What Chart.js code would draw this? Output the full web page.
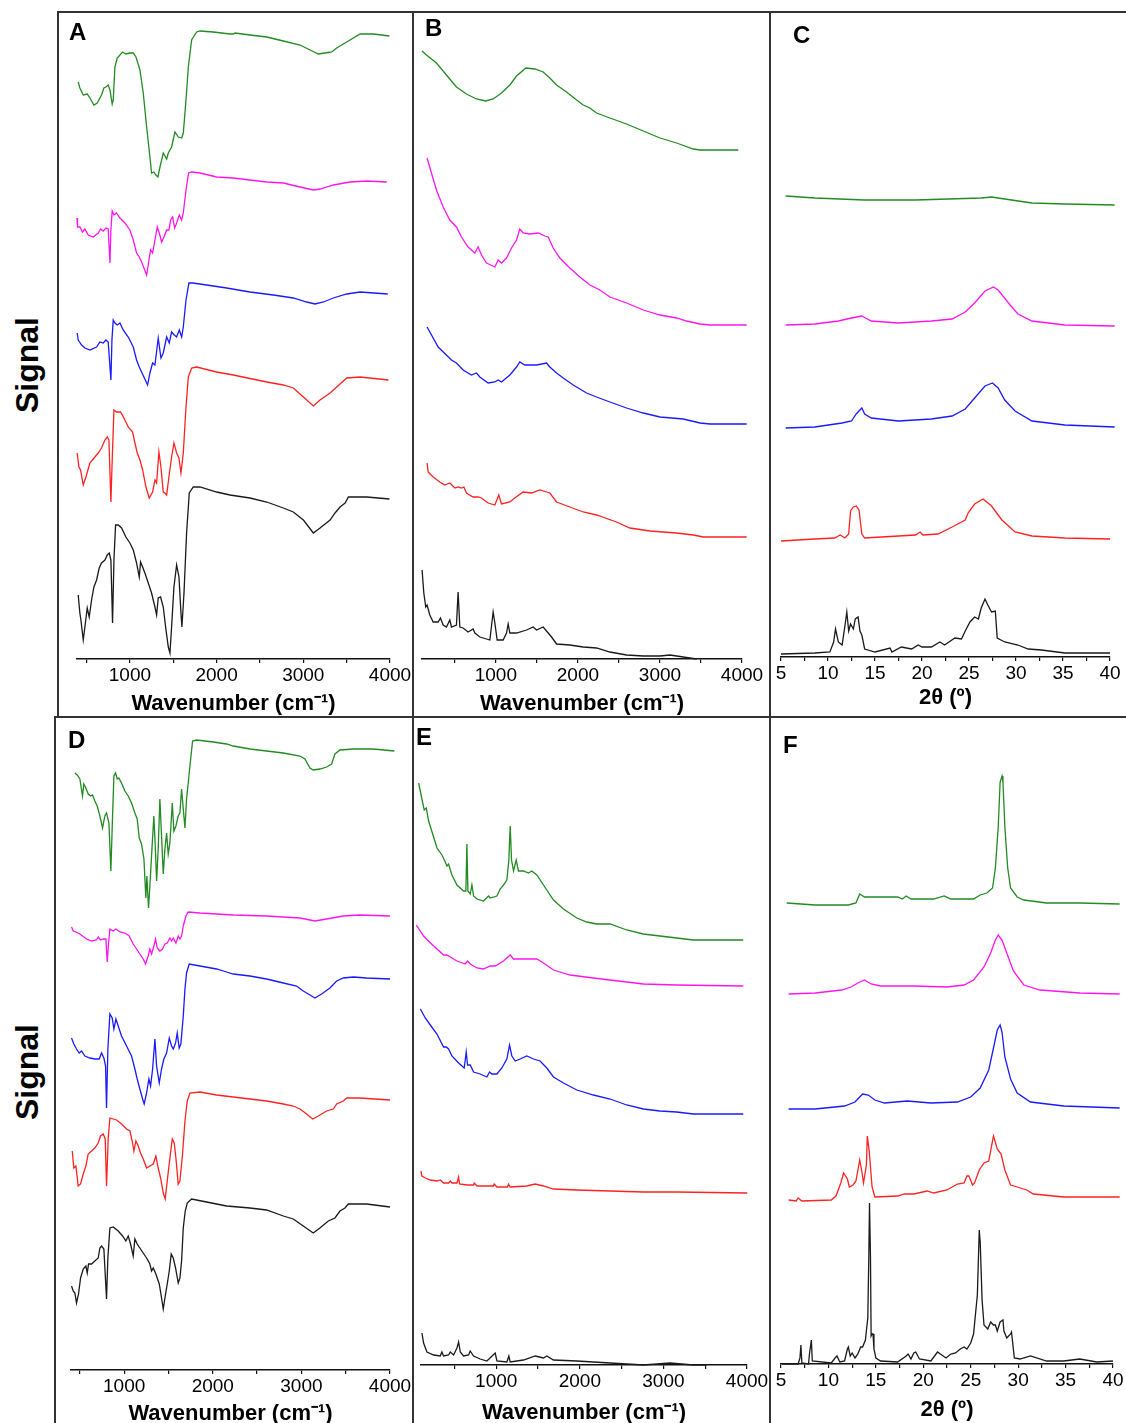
<!DOCTYPE html>
<html><head><meta charset="utf-8">
<script src="https://cdn.jsdelivr.net/npm/chart.js@4.4.1/dist/chart.umd.min.js"></script>
<style>
html,body{margin:0;padding:0;background:#fff;}
body{width:1126px;height:1423px;position:relative;overflow:hidden;font-family:"Liberation Sans",Arial,sans-serif;}
canvas{position:absolute;}
.ln{position:absolute;background:#333;}
.letter{position:absolute;font-weight:bold;font-size:24px;line-height:1;color:#000;}
.signal{position:absolute;width:140px;height:40px;line-height:40px;text-align:center;font-weight:bold;font-size:32px;color:#000;transform:rotate(-90deg);}
</style></head><body>
<script>
// ---------- tick positions and labels ----------
const waveTicks = [500, 1000, 1500, 2000, 2500, 3000, 3500, 4000];
const waveLabels = [1000, 2000, 3000, 4000];
const thetaTicks = [5, 7.5, 10, 12.5, 15, 17.5, 20, 22.5, 25, 27.5, 30, 32.5, 35, 37.5, 40];
const thetaLabels = [5, 10, 15, 20, 25, 30, 35, 40];

// ---------- Panel A (FTIR, wavenumber) ----------
const aGreenX = [404,423,462,508,539,585,623,673,700,723,750,770,796,808,827,854,916,954,1000,1039,1070,1116,1154,1193,1231,1250,1277,1300,1323,1347,1385,1424,1443,1481,1520,1558,1597,1616,1647,1674,1712,1770,1808,1962,2154,2193,2212,2385,2578,2770,2962,3078,3174,3251,3328,3385,3501,3655,3808,3993];
const aGreenY = [577,571,564,565,561,554,556,564,571,572,574,569,555,559,592,601,607,605,606,606,602,589,566,532,502,486,487,484,482,492,506,500,506,512,527,522,521,526,559,592,619,627,628,627,625,625,626,624,622,618,614,609,605,606,607,611,617,625,625,623];
const aMagX = [390,396,423,454,481,519,577,635,662,693,723,750,770,781,796,816,846,885,943,1000,1039,1077,1108,1135,1162,1193,1220,1239,1262,1289,1316,1339,1366,1393,1424,1450,1470,1493,1516,1539,1570,1597,1616,1647,1677,1712,1808,2001,2193,2385,2578,2770,2962,3116,3193,3347,3539,3732,3963];
const aMagY = [441,432,432,427,430,424,422,426,430,428,431,430,396,429,448,444,446,441,436,429,419,406,402,397,391,384,399,409,406,419,432,426,417,422,429,429,439,442,431,436,444,439,446,469,486,487,486,482,481,479,477,476,472,469,470,474,477,478,477];
const aBlueX = [392,404,443,481,539,616,654,693,723,750,781,793,808,827,854,885,923,981,1039,1077,1108,1135,1162,1204,1231,1262,1289,1327,1358,1385,1424,1454,1481,1512,1539,1570,1597,1616,1647,1681,1724,1885,2116,2385,2655,2885,3039,3135,3232,3347,3501,3655,3974];
const aBlueY = [326,319,314,311,309,312,317,316,319,317,279,319,339,336,334,336,329,322,312,299,292,287,282,274,286,296,294,321,301,306,322,316,327,324,322,329,322,332,359,376,376,374,371,367,364,361,357,355,357,361,365,367,365];
const aRedX = [392,412,431,462,493,539,596,635,673,712,739,758,781,796,816,846,893,931,981,1031,1058,1085,1116,1147,1185,1223,1262,1289,1308,1335,1358,1385,1404,1424,1450,1481,1508,1539,1566,1589,1616,1647,1674,1712,1770,2001,2193,2578,2770,2885,3001,3116,3193,3309,3385,3462,3501,3655,3982];
const aRedY = [206,192,189,174,182,196,202,206,211,219,222,219,157,199,249,247,247,241,232,227,216,206,199,189,172,161,167,179,176,207,192,167,166,164,182,202,216,206,201,186,206,252,282,291,292,287,284,277,274,271,262,253,259,266,272,278,281,282,279];
const aBlackX = [404,423,435,462,481,508,531,558,585,616,646,673,712,739,762,781,800,816,835,866,904,954,1000,1039,1077,1108,1123,1147,1173,1212,1250,1289,1308,1327,1354,1385,1412,1443,1462,1481,1508,1539,1566,1589,1600,1624,1654,1685,1731,1808,2001,2154,2385,2578,2770,2885,3001,3116,3193,3309,3366,3424,3482,3520,3732,3993];
const aBlackY = [64,46,39,19,32,51,42,59,72,79,91,96,99,104,106,99,36,99,134,134,131,122,116,109,96,82,97,92,86,76,66,52,44,61,62,52,32,12,6,32,72,94,82,46,32,66,126,166,172,172,167,164,161,157,151,147,139,126,131,139,146,152,156,162,162,160];

// ---------- Panel B (Raman, wavenumber) ----------
const bGreenX = [100,154,276,398,520,642,764,878,967,1069,1171,1252,1366,1475,1577,1658,1740,1862,1984,2065,2146,2227,2390,2593,2797,3000,3203,3406,3488,3955];
const bGreenY = [608,604,596,584,572,565,560,558,560,566,574,583,591,590,587,581,574,567,559,554,551,546,541,535,528,521,516,510,509,509];
const bMagX = [162,215,276,358,439,520,581,662,744,784,825,886,988,1028,1069,1130,1191,1252,1292,1333,1414,1516,1597,1638,1699,1780,1902,2024,2146,2268,2390,2593,2797,3000,3203,3325,3488,3610,4057];
const bMagY = [501,486,469,452,439,432,422,412,406,412,404,396,392,399,396,401,411,419,430,426,425,426,423,422,411,401,391,382,374,369,362,356,349,344,341,338,335,334,334];
const bBlueX = [162,297,459,520,601,703,764,805,906,988,1028,1069,1171,1252,1292,1353,1496,1618,1658,1740,1821,1943,2105,2227,2390,2593,2797,3000,3284,3488,3610,4057];
const bBlueY = [332,312,299,296,289,284,286,282,276,277,279,277,284,292,297,294,294,296,292,286,281,274,266,262,257,251,246,242,240,236,235,235];
const bRedX = [162,175,236,317,378,439,500,540,581,610,642,723,784,825,906,988,1036,1069,1171,1231,1333,1435,1536,1618,1658,1740,1902,2065,2227,2471,2634,2878,3203,3406,3528,4057];
const bRedY = [196,187,182,177,174,176,171,172,171,172,166,162,162,161,156,154,164,155,157,161,167,166,169,167,166,157,152,147,144,137,131,128,126,124,122,122];
const bBlackX = [101,122,146,162,195,236,297,325,358,398,439,459,520,540,561,601,662,723,744,805,927,967,988,1016,1089,1130,1150,1171,1252,1374,1455,1496,1577,1638,1679,1740,1902,2065,2227,2390,2593,2797,3000,3122,3284,3447];
const bBlackY = [89,66,52,54,44,37,37,41,34,32,39,32,34,67,32,31,27,30,26,22,19,47,36,19,19,26,35,26,26,29,32,29,32,26,22,15,14,12,11,7,4,3,3,4,2,0];

// ---------- Panel C (XRD, 2theta) ----------
const cGreenX = [5.5,8.6,13.9,19.3,22.8,26.3,27.4,28.8,31.7,35.2,40.5];
const cGreenY = [461,459,457,457,458,459,460,458,454,453,452];
const cMagX = [5.5,8.6,11.1,12.5,13.6,13.8,14.6,17.5,21.0,23.2,24.6,25.6,26.7,27.6,28.1,29.2,30.2,31.7,35.2,40.5];
const cMagY = [332,333,336,339,341,340,336,334,336,338,345,354,366,370,367,354,343,336,332,331];
const cBlueX = [5.5,8.6,11.5,12.5,13.0,13.6,13.9,14.6,17.5,21.0,23.2,24.6,25.6,26.7,27.5,28.1,28.8,29.9,31.7,35.2,40.5];
const cBlueY = [229,230,234,236,243,249,243,239,236,238,241,248,259,271,274,269,257,246,236,232,230];
const cRedX = [5.0,8.6,10.7,11.3,11.8,12.2,12.4,12.7,13.0,13.3,13.6,13.9,17.5,19.3,19.8,20.1,21.7,23.2,24.6,24.9,25.6,26.5,27.4,28.5,29.9,31.7,35.2,40.0];
const cRedY = [116,118,119,122,119,123,146,150,151,147,123,119,121,122,125,122,123,130,137,144,153,158,151,137,125,121,119,118];
const cBlackX = [5.0,8.6,10.2,10.6,10.8,11.1,11.5,11.8,12.0,12.2,12.4,12.7,12.9,13.2,13.4,13.6,13.9,15.0,16.6,16.8,17.8,18.9,19.6,20.0,21.0,21.9,22.4,23.5,24.2,24.6,25.1,25.6,26.0,26.3,26.7,27.0,27.4,27.8,28.0,28.8,30.2,31.3,32.7,35.2,40.0];
const cBlackY = [3,4,5,15,28,15,12,31,45,26,33,28,38,40,26,22,8,5,9,5,10,8,12,10,10,15,12,19,18,26,35,40,38,49,58,52,45,46,19,15,12,8,7,4,4];

// ---------- Panel D (FTIR, wavenumber) ----------
const dGreenX = [444,470,500,530,545,568,594,621,643,669,696,726,756,782,801,828,850,869,884,903,922,940,970,1008,1046,1083,1121,1147,1170,1196,1223,1245,1256,1275,1290,1309,1335,1351,1366,1384,1403,1422,1441,1460,1479,1497,1516,1543,1561,1584,1610,1629,1648,1667,1686,1704,1723,1742,1772,1817,2005,2156,2231,2419,2607,2796,2984,3040,3097,3134,3209,3285,3341,3379,3435,3586,3811,4049];
const dGreenY = [597,595,591,574,586,582,576,574,575,569,564,554,542,554,557,547,499,554,594,597,591,592,587,579,574,567,557,551,532,526,511,472,494,462,484,514,554,524,489,521,571,534,496,521,537,516,527,567,539,544,554,557,581,561,542,571,587,604,629,630,628,626,624,621,619,617,614,611,602,600,601,603,606,616,620,621,621,619];
const dMagX = [406,425,455,500,530,575,632,688,707,733,764,794,809,824,839,876,906,952,1008,1057,1102,1140,1177,1215,1241,1271,1290,1309,1335,1354,1373,1403,1433,1460,1486,1516,1535,1554,1584,1610,1629,1648,1667,1697,1723,1855,2043,2231,2607,2984,3153,3285,3473,3661,4000];
const dMagY = [443,439,438,436,434,431,429,430,433,430,431,431,408,427,441,439,441,438,437,434,426,421,416,411,406,414,421,416,424,431,422,419,421,426,427,432,429,432,427,434,431,434,444,454,458,457,456,455,454,452,449,451,454,455,454];
const dBlueX = [406,432,462,493,519,557,613,669,718,745,771,790,801,816,839,865,884,907,933,970,1027,1083,1121,1147,1177,1208,1226,1253,1279,1298,1321,1347,1366,1396,1422,1448,1479,1509,1535,1554,1580,1599,1621,1640,1667,1686,1704,1734,1855,2043,2156,2231,2419,2607,2796,2946,3021,3097,3153,3228,3322,3398,3473,3586,3736,4000];
const dBlueY = [332,326,321,317,319,314,312,311,311,317,312,304,262,321,356,352,341,351,344,334,324,314,301,291,281,271,266,277,291,284,301,331,304,287,301,311,317,332,324,321,327,337,322,326,354,381,397,406,404,401,398,396,394,391,387,384,379,375,372,376,382,389,392,393,392,391];
const dRedX = [414,432,455,481,508,538,568,594,632,669,707,733,764,786,801,820,839,876,914,970,1027,1065,1095,1110,1132,1159,1185,1215,1253,1290,1328,1358,1384,1411,1441,1463,1486,1516,1543,1565,1584,1610,1629,1659,1686,1712,1742,1855,2043,2231,2607,2796,2908,2984,3059,3127,3191,3285,3360,3398,3473,3511,3661,4000];
const dRedY = [219,202,204,184,186,196,204,216,219,222,227,234,236,231,184,232,252,251,250,246,241,239,227,219,229,224,217,211,202,204,206,214,202,192,177,171,189,212,231,227,212,186,189,216,249,269,277,278,275,273,269,266,264,261,256,251,254,259,261,266,269,272,272,270];
const dBlackX = [406,425,444,462,485,508,538,568,583,598,632,669,707,726,745,771,801,816,839,876,933,982,1019,1046,1072,1102,1121,1147,1177,1215,1253,1290,1309,1328,1358,1396,1422,1441,1460,1486,1509,1531,1554,1580,1610,1629,1648,1667,1689,1712,1761,1930,2156,2419,2607,2796,2908,3021,3134,3209,3304,3379,3435,3492,3529,3736,4000];
const dBlackY = [84,79,77,67,76,92,101,104,97,106,106,109,112,122,124,121,71,112,142,143,139,134,129,134,126,114,131,126,122,117,112,106,99,102,96,86,72,61,72,86,99,116,112,102,87,92,109,142,159,167,171,168,164,162,160,154,151,144,137,142,149,152,159,162,166,166,163];

// ---------- Panel E (Raman, wavenumber) ----------
const eGreenX = [44,72,111,139,163,191,251,291,350,390,410,430,470,530,609,637,649,661,689,709,729,769,848,908,928,1008,1047,1087,1127,1151,1167,1183,1207,1239,1266,1326,1386,1426,1486,1565,1685,1804,1964,2083,2202,2362,2561,2760,2959,3158,3358,3955];
const eGreenY = [593,582,566,555,557,544,528,517,510,503,499,501,490,480,474,474,521,474,471,480,469,466,464,469,467,469,476,480,485,505,539,505,494,505,494,494,492,494,490,480,465,456,447,443,441,441,435,431,429,427,425,425];
const eMagX = [44,131,251,370,410,530,629,657,689,769,848,928,988,1087,1167,1207,1326,1486,1565,1685,1884,2163,2362,2760,3158,3955];
const eMagY = [440,429,419,410,410,404,401,404,401,397,396,399,399,404,410,406,406,406,402,395,390,387,385,381,380,379];
const eBlueX = [44,92,151,211,291,370,402,430,470,550,617,641,657,689,729,808,888,920,948,1008,1067,1127,1159,1187,1227,1286,1366,1446,1525,1605,1685,1804,1964,2163,2362,2561,2760,2959,3158,3358,3955];
const eBlueY = [371,356,347,340,331,318,318,316,309,302,297,313,300,300,293,291,288,293,291,291,297,306,320,309,304,306,309,306,304,297,288,282,275,270,266,260,256,254,253,251,251];
const eRedX = [99,111,151,211,291,330,370,430,450,470,530,550,561,649,729,737,769,968,976,1008,1135,1147,1167,1366,1466,1565,1685,1964,2362,2760,3158,4003];
const eRedY = [194,189,187,185,184,185,182,182,184,182,182,188,181,180,180,182,179,179,181,178,178,181,178,179,181,179,176,175,174,173,173,172];
const eBlackX = [111,131,171,251,330,350,370,430,450,490,530,550,570,609,669,689,729,808,888,988,1008,1127,1151,1167,1326,1466,1565,1605,1685,1964,2362,2760,3079,3358,3517];
const eBlackY = [32,22,13,10,9,13,9,10,13,10,17,23,13,9,10,14,9,6,4,12,4,3,9,3,5,9,7,9,5,4,2,0,2,0,0];

// ---------- Panel F (XRD, 2theta) ----------
const fGreenX = [5.6,8.6,12.1,12.9,13.3,13.8,17.3,17.8,18.2,18.7,21.1,22.2,22.9,25.3,26.0,26.7,27.3,27.6,27.9,28.1,28.3,28.4,28.6,28.9,29.2,29.9,30.6,33.0,36.5,40.7];
const fGreenY = [461,459,459,461,470,467,467,465,468,465,465,468,465,465,469,471,476,496,537,582,588,582,537,496,476,467,464,461,461,460];
const fMagX = [5.8,8.6,11.4,12.4,13.1,13.8,14.5,15.5,19.0,22.5,24.3,25.3,26.4,27.1,27.6,27.9,28.3,28.8,29.5,30.6,32.3,36.5,40.7];
const fMagY = [370,371,374,377,381,384,380,378,378,377,379,384,397,411,424,429,424,411,393,379,374,371,370];
const fBlueX = [5.8,8.6,11.7,12.8,13.3,13.6,14.2,14.9,15.9,18.3,20.8,23.6,25.0,26.0,26.9,27.4,27.8,28.1,28.3,28.6,29.2,29.9,31.3,34.8,40.7];
const fBlueY = [255,255,258,262,267,270,269,264,261,263,261,262,267,276,294,316,334,339,332,307,285,271,262,258,256];
const fRedX = [5.8,6.6,6.8,7.2,10.3,10.8,11.3,11.6,12.0,12.2,12.6,12.9,13.3,13.5,13.7,14.0,14.1,14.3,14.6,14.9,17.3,18.0,19.0,20.4,21.1,22.5,23.6,24.3,24.6,24.8,25.2,25.4,25.9,26.4,26.9,27.4,27.8,28.2,28.6,29.2,29.9,30.9,31.6,34.8,40.7];
const fRedY = [164,163,166,163,164,168,181,191,185,177,179,183,204,194,181,199,228,213,177,167,168,170,170,173,171,174,180,181,188,188,179,181,194,201,203,228,215,210,194,179,177,174,170,167,167];
const fBlackX = [5.1,6.8,7.0,7.1,7.2,7.9,8.0,8.2,8.3,10.3,10.7,10.9,11.2,11.7,12.0,12.1,12.3,12.5,12.8,13.1,13.4,13.6,13.9,14.0,14.15,14.26,14.33,14.43,14.5,14.6,14.7,14.8,15.0,15.5,17.3,18.2,18.4,18.7,19.0,19.2,19.6,20.8,21.5,21.8,22.4,22.9,23.4,23.9,24.3,24.6,25.0,25.3,25.7,25.9,26.0,26.2,26.4,26.8,27.1,27.4,27.6,27.8,28.1,28.4,28.5,28.8,29.2,29.3,29.6,30.2,31.3,33.0,34.8,36.5,38.3,40.0];
const fBlackY = [0,0,6,19,1,0,10,24,3,1,6,8,2,3,15,17,8,11,6,10,17,17,24,33,46,109,161,109,28,30,30,15,6,3,2,8,10,5,11,12,5,3,12,10,6,10,11,15,17,15,21,30,69,134,122,64,39,35,42,39,39,33,42,44,33,26,30,32,6,5,8,3,3,5,2,3];

// ---------- styling / layout ----------
const COLORS = {green:'#228b22', magenta:'#ff14f0', blue:'#1a1aff', red:'#ff2222', black:'#1a1a1a'};
const FONT = '"Liberation Sans", Arial, sans-serif';
Chart.defaults.font.family = FONT;

function pts(xs, ys){ return xs.map((v,i)=>({x:v, y:ys[i]})); }

function addLine(cls, l, t, w, h){
  const d = document.createElement('div'); d.className = cls;
  d.style.left=l+'px'; d.style.top=t+'px'; d.style.width=w+'px'; d.style.height=h+'px';
  document.body.appendChild(d);
}
function addText(cls, txt, l, t){
  const d = document.createElement('div'); d.className = cls; d.textContent = txt;
  d.style.left=l+'px'; d.style.top=t+'px'; document.body.appendChild(d);
}

function makePanel(p){
  const c = document.createElement('canvas');
  c.width = p.w; c.height = p.h;
  c.style.left = p.left+'px'; c.style.top = p.top+'px';
  c.style.width = p.w+'px'; c.style.height = p.h+'px';
  document.body.appendChild(c);
  const series = [
    [p.s[0], p.s[1], COLORS.green],
    [p.s[2], p.s[3], COLORS.magenta],
    [p.s[4], p.s[5], COLORS.blue],
    [p.s[6], p.s[7], COLORS.red],
    [p.s[8], p.s[9], COLORS.black]
  ];
  new Chart(c, {
    type:'line',
    data:{datasets: series.map(s=>({data:pts(s[0],s[1]), borderColor:s[2], borderWidth:1.3, pointRadius:0, fill:false, tension:0, clip:false}))},
    options:{
      responsive:false, animation:false, devicePixelRatio:1,
      layout:{padding:{left:p.pl, right:p.pr, top:2, bottom:0}},
      plugins:{legend:{display:false}, tooltip:{enabled:false}},
      scales:{
        x:{type:'linear', min:p.xmin, max:p.xmax,
          afterBuildTicks:(s)=>{ s.ticks = p.ticks.map(v=>({value:v})); },
          afterFit:(s)=>{ s.height = p.axisH; },
          border:{display:true, color:'#111', width:1.5},
          grid:{display:true, drawOnChartArea:false, drawTicks:true, tickLength:4, color:'#111', lineWidth:1.2},
          ticks:{autoSkip:false, maxRotation:0, minRotation:0, padding:1, color:'#000',
                 font:{size:19, family:FONT},
                 callback:(v)=> p.labels.includes(v) ? String(v) : ''},
          title:{display:true, text:p.title, color:'#000', font:{size:22, weight:'bold', family:FONT}, padding:{top:0, bottom:p.tpb}}
        },
        y:{display:false, min:0, max:p.ymax}
      }
    }
  });
}

const WAVE = 'Wavenumber (cm\u207B\u00B9)';
const THETA = '2\u03B8 (\u00BA)';

makePanel({left:58, top:12, w:355, h:705, pl:19, pr:23, axisH:58, tpb:0, xmin:390, xmax:4000, ticks:waveTicks, labels:waveLabels, title:WAVE, ymax:645,
  s:[aGreenX,aGreenY,aMagX,aMagY,aBlueX,aBlueY,aRedX,aRedY,aBlackX,aBlackY]});
makePanel({left:413, top:12, w:357, h:705, pl:9, pr:28, axisH:58, tpb:0, xmin:100, xmax:4000, ticks:waveTicks, labels:waveLabels, title:WAVE, ymax:645,
  s:[bGreenX,bGreenY,bMagX,bMagY,bBlueX,bBlueY,bRedX,bRedY,bBlackX,bBlackY]});
makePanel({left:770, top:12, w:356, h:705, pl:11, pr:16, axisH:60, tpb:6, xmin:5, xmax:40, ticks:thetaTicks, labels:thetaLabels, title:THETA, ymax:643,
  s:[cGreenX,cGreenY,cMagX,cMagY,cBlueX,cBlueY,cRedX,cRedY,cBlackX,cBlackY]});
makePanel({left:55, top:718, w:358, h:715, pl:16, pr:23, axisH:63, tpb:6, xmin:400, xmax:4000, ticks:waveTicks, labels:waveLabels, title:WAVE, ymax:650,
  s:[dGreenX,dGreenY,dMagX,dMagY,dBlueX,dBlueY,dRedX,dRedY,dBlackX,dBlackY]});
makePanel({left:413, top:718, w:357, h:715, pl:8, pr:23, axisH:68, tpb:7, xmin:100, xmax:4000, ticks:waveTicks, labels:waveLabels, title:WAVE, ymax:645,
  s:[eGreenX,eGreenY,eMagX,eMagY,eBlueX,eBlueY,eRedX,eRedY,eBlackX,eBlackY]});
makePanel({left:770, top:718, w:356, h:715, pl:11, pr:13, axisH:69, tpb:10, xmin:5, xmax:40, ticks:thetaTicks, labels:thetaLabels, title:THETA, ymax:644,
  s:[fGreenX,fGreenY,fMagX,fMagY,fBlueX,fBlueY,fRedX,fRedY,fBlackX,fBlackY]});

// frame lines
addLine('ln', 58, 11, 1068, 2);     // top border
addLine('ln', 57, 11, 2, 707);      // left border top row
addLine('ln', 54, 716, 1072, 2);    // row separator
addLine('ln', 54, 716, 2, 707);     // left border bottom row
addLine('ln', 412, 11, 2, 1412);    // A|B, D|E
addLine('ln', 769, 11, 2, 1412);    // B|C, E|F

// panel letters
addText('letter', 'A', 69, 20);
addText('letter', 'B', 425, 16);
addText('letter', 'C', 793, 23);
addText('letter', 'D', 68, 728);
addText('letter', 'E', 416, 725);
addText('letter', 'F', 783, 733);
// y-axis labels
addText('signal', 'Signal', -43, 345);
addText('signal', 'Signal', -43, 1052);
</script>
</body></html>
